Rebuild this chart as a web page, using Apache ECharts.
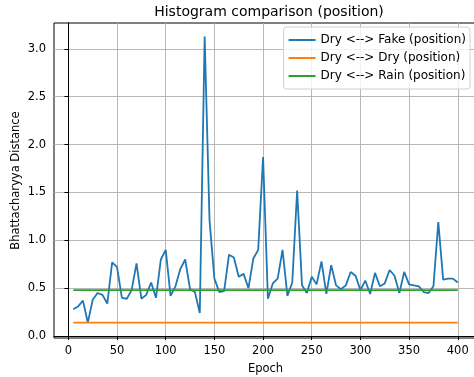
<!DOCTYPE html>
<html>
<head>
<meta charset="utf-8">
<script src="https://cdn.jsdelivr.net/npm/echarts@6/dist/echarts.min.js"></script>
<style>html,body{margin:0;padding:0;background:#fff;overflow:hidden}#c{width:474px;height:377px}</style>
</head>
<body>
<div id="c"></div>
<script>
var epochs = [5,10,15,20,25,30,35,40,45,50,55,60,65,70,75,80,85,90,95,100,105,110,115,120,125,130,135,140,145,150,155,160,165,170,175,180,185,190,195,200,205,210,215,220,225,230,235,240,245,250,255,260,265,270,275,280,285,290,295,300,305,310,315,320,325,330,335,340,345,350,355,360,365,370,375,380,385,390,395,400];
var fakeValues = [0.28,0.31,0.37,0.14,0.38,0.45,0.43,0.34,0.77,0.72,0.40,0.39,0.48,0.76,0.39,0.43,0.56,0.40,0.80,0.90,0.42,0.52,0.70,0.80,0.49,0.46,0.24,3.13,1.21,0.60,0.46,0.47,0.85,0.82,0.62,0.65,0.50,0.81,0.90,1.87,0.39,0.55,0.60,0.90,0.42,0.56,1.52,0.53,0.45,0.62,0.54,0.78,0.44,0.74,0.53,0.49,0.53,0.67,0.63,0.48,0.58,0.44,0.66,0.52,0.55,0.69,0.63,0.45,0.67,0.54,0.53,0.52,0.46,0.45,0.52,1.19,0.59,0.60,0.60,0.56];
var dryValue = 0.14;
var rainValue = 0.48;
var seriesNames = ['Dry <--> Fake (position)','Dry <--> Dry (position)','Dry <--> Rain (position)'];
var xTicks = [0,50,100,150,200,250,300,350,400];
var yTicks = [0,0.5,1.0,1.5,2.0,2.5,3.0];

var dryValues = epochs.map(function(){return dryValue;});
var rainValues = epochs.map(function(){return rainValue;});
function pairs(vals){return epochs.map(function(e,i){return [e, vals[i]];});}

var font = 'DejaVu Sans';
var chart = echarts.init(document.getElementById('c'), null, {renderer:'canvas'});
chart.setOption({
  animation:false,
  backgroundColor:'#fff',
  textStyle:{fontFamily:font},
  title:{text:'Histogram comparison (position)', left:264, top:0, textAlign:'center',
    textStyle:{fontFamily:font, fontSize:14, fontWeight:'normal', color:'#000'}},
  grid:{left:54, width:423, top:23, height:315, outerBoundsMode:'none', containLabel:false,
    show:true, borderColor:'#000', borderWidth:1},
  legend:{orient:'vertical', right:4, top:27, icon:'rect', itemWidth:27, itemHeight:2,
    itemGap:4, padding:[6,4,6,5], borderColor:'#d0d0d0', borderWidth:1, borderRadius:3,
    backgroundColor:'rgba(255,255,255,0.8)',
    textStyle:{fontFamily:font, fontSize:12, color:'#000', lineHeight:14},
    data:seriesNames},
  xAxis:{type:'value', min:-14.75, max:419.75, name:'Epoch', nameLocation:'middle', nameGap:25,
    nameMoveOverlap:false,
    nameTextStyle:{fontFamily:font, fontSize:11.5, color:'#000'},
    axisLine:{lineStyle:{color:'#000', width:1}},
    axisTick:{show:true, length:4, customValues:xTicks, lineStyle:{color:'#000'}},
    axisLabel:{customValues:xTicks, fontFamily:font, fontSize:11.5, color:'#000', margin:7},
    splitLine:{show:true, lineStyle:{color:'#b0b0b0', width:0.9}}},
  yAxis:{type:'value', min:-0.02, max:3.27, name:'Bhattacharyya Distance', nameLocation:'middle', nameGap:32,
    nameMoveOverlap:false,
    nameTextStyle:{fontFamily:font, fontSize:11.5, color:'#000'},
    axisLine:{show:true, lineStyle:{color:'#000', width:1}},
    axisTick:{show:true, length:4, customValues:yTicks, lineStyle:{color:'#000'}},
    axisLabel:{customValues:yTicks, fontFamily:font, fontSize:11.5, color:'#000', margin:8,
      formatter:function(v){return v.toFixed(1);}},
    splitLine:{show:true, lineStyle:{color:'#b0b0b0', width:0.9}}},
  series:[
    {name:seriesNames[0], type:'line', data:pairs(fakeValues), showSymbol:false, symbol:'none', color:'#1f77b4', lineStyle:{width:1.8}},
    {name:seriesNames[1], type:'line', data:pairs(dryValues), showSymbol:false, symbol:'none', color:'#ff7f0e', lineStyle:{width:1.8}},
    {name:seriesNames[2], type:'line', data:pairs(rainValues), showSymbol:false, symbol:'none', color:'#2ca02c', lineStyle:{width:1.8}}
  ]
});
</script>
</body>
</html>
